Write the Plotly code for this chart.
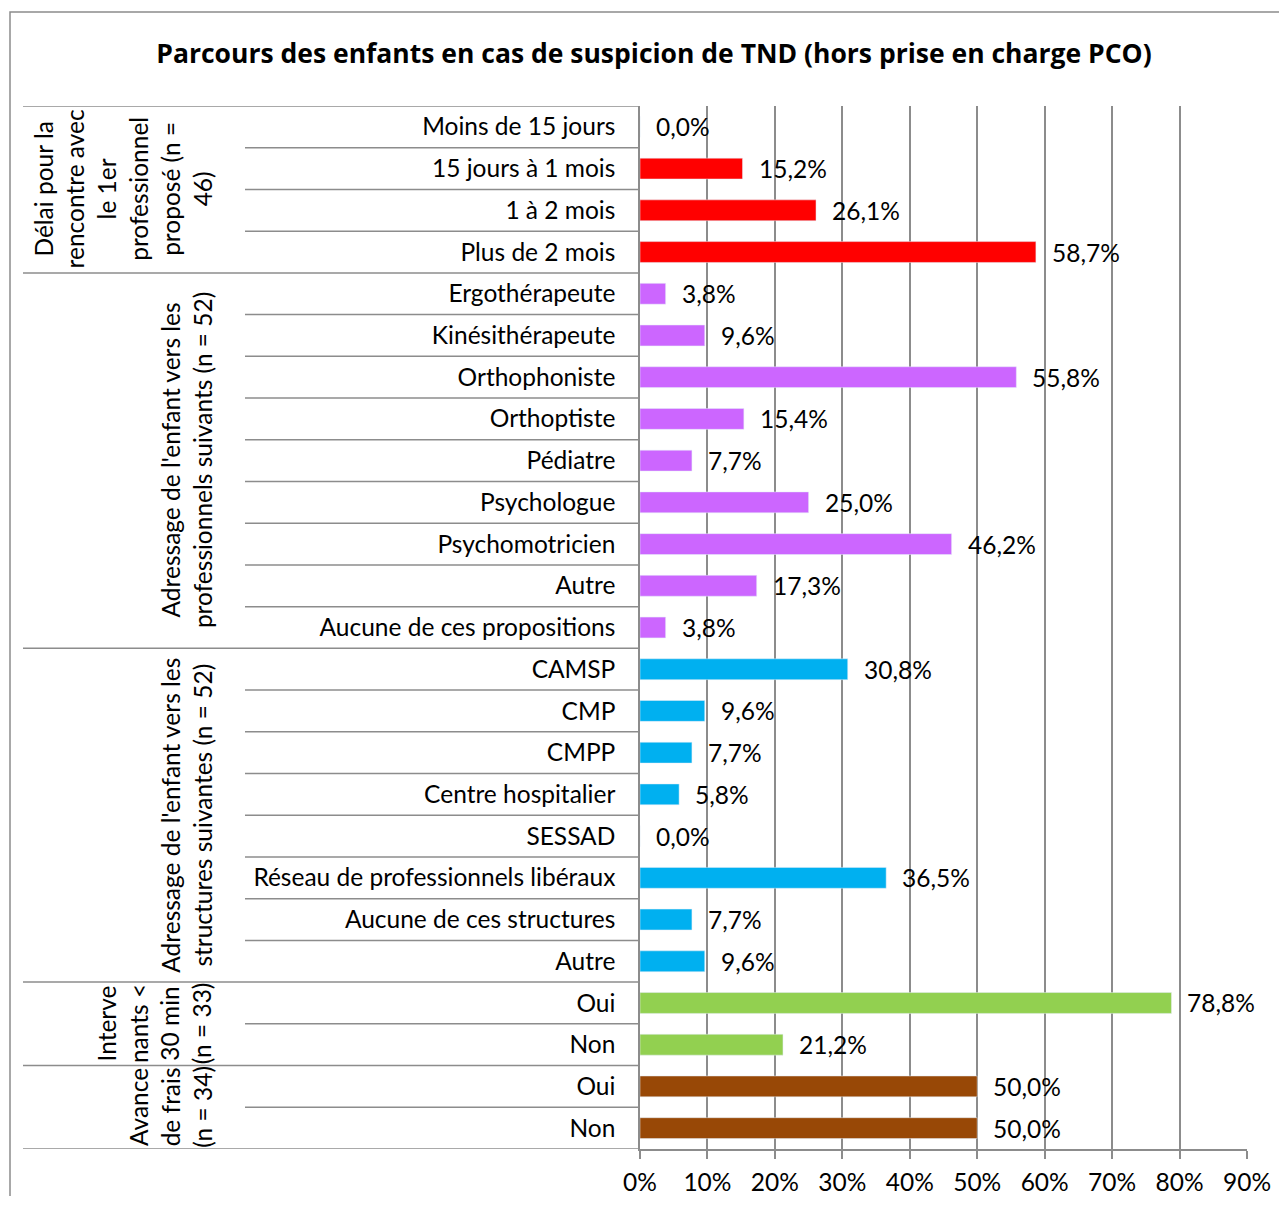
import plotly.graph_objects as go

# ---------------- data ----------------
group_labels = [
    "Délai pour la<br>rencontre avec<br>le 1er<br>professionnel<br>proposé (n =<br>46)",
    "Adressage de l'enfant vers les<br>professionnels suivants (n = 52)",
    "Adressage de l'enfant vers les<br>structures suivantes (n = 52)",
    "Interve<br>nants <<br>30 min<br>(n = 33)",
    "Avance<br>de frais<br>(n = 34)",
]
cat_delai = ["Moins de 15 jours", "15 jours à 1 mois", "1 à 2 mois", "Plus de 2 mois"]
val_delai = [0.0, 15.2, 26.1, 58.7]
cat_prof = ["Ergothérapeute", "Kinésithérapeute", "Orthophoniste", "Orthoptiste", "Pédiatre",
            "Psychologue", "Psychomotricien", "Autre", "Aucune de ces propositions"]
val_prof = [3.8, 9.6, 55.8, 15.4, 7.7, 25.0, 46.2, 17.3, 3.8]
cat_struct = ["CAMSP", "CMP", "CMPP", "Centre hospitalier", "SESSAD",
              "Réseau de professionnels libéraux", "Aucune de ces structures", "Autre"]
val_struct = [30.8, 9.6, 7.7, 5.8, 0.0, 36.5, 7.7, 9.6]
cat_interv = ["Oui", "Non"]
val_interv = [78.8, 21.2]
cat_frais = ["Oui", "Non"]
val_frais = [50.0, 50.0]
x_ticks = [0, 10, 20, 30, 40, 50, 60, 70, 80, 90]

groups = [
    (cat_delai, val_delai, "#FF0000"),
    (cat_prof, val_prof, "#CC66FF"),
    (cat_struct, val_struct, "#00B0F0"),
    (cat_interv, val_interv, "#92D050"),
    (cat_frais, val_frais, "#984806"),
]

# ---------------- layout geometry (pixels, page coords) ----------------
OFF = 8  # default page body margin
W, H = 1287 - 2 * OFF, 1208 - 2 * OFF - 4
PL, PR, PT, PB = 640, 1247, 106, 1149
FONT = "Lato, 'Open Sans', sans-serif"
TFONT = "'Open Sans', Lato, sans-serif"
FS = 24.5
GRID = "#8C8C8C"


def px_x(x):
    return (x - PL) / (PR - PL)


def px_y(y):
    return (PB - y) / (PB - PT)


fig = go.Figure()
ticktext, tickvals = [], []
annotations, shapes = [], []
pos = 0
group_bounds = []
for cats, vals, col in groups:
    ys = list(range(pos, pos + len(cats)))
    fig.add_trace(go.Bar(x=vals, y=ys, orientation="h", marker_color=col,
                         width=0.5, showlegend=False, hoverinfo="x+y"))
    for c, v, y in zip(cats, vals, ys):
        tickvals.append(y)
        ticktext.append(c)
        annotations.append(dict(x=v, y=y, xref="x", yref="y", text=f"{v:.1f}".replace(".", ",") + "%",
                                showarrow=False, xanchor="left", yanchor="middle", xshift=14,
                                font=dict(family=FONT, size=FS, color="#000000")))
    group_bounds.append((pos - 0.5, pos + len(cats) - 0.5))
    pos += len(cats)

n_rows = pos

# group labels (rotated)
for (y0, y1), glabel in zip(group_bounds, group_labels):
    annotations.append(dict(x=px_x(219), y=(y0 + y1) / 2, xref="paper", yref="y", text=glabel,
                            textangle=-90, showarrow=False, xanchor="right", yanchor="middle",
                            align="center", font=dict(family=FONT, size=FS, color="#000000")))

# separator lines
group_edges = set()
for y0, y1 in group_bounds:
    group_edges.add(y0)
    group_edges.add(y1)
for k in range(n_rows + 1):
    yb = k - 0.5
    x0 = px_x(23) if yb in group_edges else px_x(245)
    shapes.append(dict(type="line", xref="paper", yref="y", x0=x0, x1=0, y0=yb, y1=yb,
                       line=dict(color=GRID, width=1.5)))

# outer frame
shapes.append(dict(type="rect", xref="paper", yref="paper", x0=px_x(10), x1=px_x(1300),
                   y0=px_y(1230), y1=px_y(12), line=dict(color=GRID, width=1.5)))

fig.update_layout(
    width=W, height=H,
    margin=dict(l=PL - OFF, r=W - (PR - OFF), t=PT - OFF, b=H - (PB - OFF), pad=0,
                autoexpand=False),
    paper_bgcolor="white", plot_bgcolor="white",
    bargap=0.5,
    title=dict(text="<b>Parcours des enfants en cas de suspicion de TND (hors prise en charge PCO)</b>",
               x=(654 - OFF) / W, xanchor="center", y=1 - (54 - OFF) / H, yanchor="middle",
               font=dict(family=TFONT, size=26.5, color="#000000")),
    annotations=annotations,
    shapes=shapes,
    font=dict(family=FONT, color="#000000"),
)
fig.update_xaxes(range=[0, 90], tickvals=x_ticks, ticktext=[f"{t}%" for t in x_ticks],
                 showgrid=True, gridcolor=GRID, gridwidth=1.5,
                 showline=True, linecolor=GRID, linewidth=1.5,
                 ticks="outside", ticklen=8, tickcolor=GRID, tickwidth=1.5,
                 ticklabelstandoff=3,
                 tickfont=dict(family=FONT, size=FS, color="#000000"), zeroline=False,
                 automargin=False, fixedrange=True)
fig.update_yaxes(range=[n_rows - 0.5, -0.5], tickvals=tickvals, ticktext=ticktext,
                 showgrid=False, showline=True, linecolor=GRID, linewidth=1.5,
                 ticks="", ticklabelstandoff=18,
                 tickfont=dict(family=FONT, size=FS, color="#000000"), zeroline=False,
                 automargin=False, fixedrange=True)

fig.write_html("out.html")
